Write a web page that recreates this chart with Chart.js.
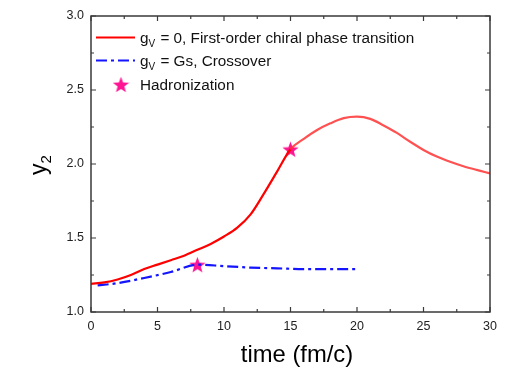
<!DOCTYPE html>
<html>
<head>
<meta charset="utf-8">
<script src="https://cdn.jsdelivr.net/npm/chart.js@4/dist/chart.umd.min.js"></script>
<style>
  html, body { margin: 0; padding: 0; background: #fff; }
  #wrap { width: 506px; height: 369px; }
</style>
</head>
<body>
<div id="wrap"><canvas id="c" width="506" height="369"></canvas></div>
<script>
// y2 vs time, first-order transition (gV = 0)
const timeFirstOrder = [0, 1, 2, 3, 4, 5, 6, 7, 8, 9, 10, 11, 12, 13, 14, 15, 16, 17, 18, 19, 20, 21, 22, 23, 24, 25, 26, 27, 28, 29, 30];
const y2FirstOrder   = [1.19, 1.20, 1.22, 1.25, 1.29, 1.32, 1.35, 1.38, 1.42, 1.46, 1.51, 1.57, 1.66, 1.80, 1.95, 2.10, 2.17, 2.23, 2.275, 2.31, 2.32, 2.305, 2.26, 2.21, 2.15, 2.095, 2.05, 2.015, 1.985, 1.96, 1.937];

// y2 vs time, crossover (gV = Gs)
const timeCrossover = [0.5, 2, 4, 6, 8, 10, 12, 14, 16, 18, 20];
const y2Crossover   = [1.18, 1.195, 1.23, 1.27, 1.32, 1.31, 1.30, 1.295, 1.29, 1.29, 1.29];

// hadronization points
const timeHadron = [8, 15];
const y2Hadron   = [1.32, 2.10];

const xTicks = [0, 5, 10, 15, 20, 25, 30];
const yTicks = [1.0, 1.5, 2.0, 2.5, 3.0];

const FONT = '"Liberation Sans", Arial, sans-serif';
const RED = '#ff0000';
const RED_LIGHT = 'rgba(255,50,50,0.85)';
const BLUE = '#1414ff';
const PINK = '#ff1493';

function makeStar(size, color) {
  const cv = document.createElement('canvas');
  cv.width = size; cv.height = size;
  const g = cv.getContext('2d');
  const cx = size / 2, cy = size / 2 + size * 0.05;
  const R = size / 2, r = R * 0.42;
  g.beginPath();
  for (let i = 0; i < 10; i++) {
    const a = -Math.PI / 2 + i * Math.PI / 5;
    const rad = i % 2 === 0 ? R : r;
    const px = cx + rad * Math.cos(a), py = cy + rad * Math.sin(a);
    if (i === 0) g.moveTo(px, py); else g.lineTo(px, py);
  }
  g.closePath();
  g.fillStyle = color;
  g.fill();
  return cv;
}
const starImg = makeStar(17, PINK);
const starLegend = makeStar(17, PINK);

const toXY = (xs, ys) => xs.map((x, i) => ({ x: x, y: ys[i] }));

// frame, inward ticks, axis titles and legend
const decorations = {
  id: 'decorations',
  afterDraw(chart) {
    const { ctx, chartArea: a, scales } = chart;
    const xs = scales.x, ys = scales.y;
    ctx.save();
    ctx.strokeStyle = '#3a3a3a';
    ctx.lineWidth = 1.5;
    ctx.strokeRect(a.left, a.top, a.right - a.left, a.bottom - a.top);

    ctx.lineWidth = 1.2;
    const major = 5, minor = 3;
    for (let v = 0; v <= 30.001; v += 2.5) {
      const p = xs.getPixelForValue(v);
      const len = Math.abs(v % 5) < 1e-6 ? major : minor;
      ctx.beginPath();
      ctx.moveTo(p, a.bottom); ctx.lineTo(p, a.bottom - len);
      ctx.moveTo(p, a.top); ctx.lineTo(p, a.top + len);
      ctx.stroke();
    }
    for (let v = 1; v <= 3.001; v += 0.25) {
      const p = ys.getPixelForValue(v);
      const len = Math.abs((v * 2) % 1) < 1e-6 ? major : minor;
      ctx.beginPath();
      ctx.moveTo(a.left, p); ctx.lineTo(a.left + len, p);
      ctx.moveTo(a.right, p); ctx.lineTo(a.right - len, p);
      ctx.stroke();
    }

    // axis titles
    ctx.fillStyle = '#000';
    ctx.font = '23.8px ' + FONT;
    ctx.textAlign = 'center';
    ctx.textBaseline = 'middle';
    ctx.fillText('time (fm/c)', 297, 355);

    ctx.save();
    ctx.translate(40, 165);
    ctx.rotate(-Math.PI / 2);
    ctx.textAlign = 'left';
    ctx.font = '23px ' + FONT;
    const wy = ctx.measureText('y').width;
    ctx.font = '15px ' + FONT;
    const w2 = ctx.measureText('2').width;
    const start = -(wy + w2) / 2;
    ctx.font = '23px ' + FONT;
    ctx.fillText('y', start, 0);
    ctx.font = '15px ' + FONT;
    ctx.fillText('2', start + wy, 7);
    ctx.restore();

    // legend
    const lx0 = 96, lx1 = 135, tx = 140;
    const rows = [37.5, 60.5, 85];
    const LF = '15.3px ' + FONT;
    ctx.lineWidth = 2.2;
    ctx.strokeStyle = RED;
    ctx.setLineDash([]);
    ctx.beginPath(); ctx.moveTo(lx0, rows[0]); ctx.lineTo(lx1, rows[0]); ctx.stroke();
    ctx.strokeStyle = BLUE;
    ctx.setLineDash([11, 4, 3, 4]);
    ctx.beginPath(); ctx.moveTo(lx0, rows[1]); ctx.lineTo(lx1, rows[1]); ctx.stroke();
    ctx.setLineDash([]);
    ctx.drawImage(starLegend, 121 - 8.5, rows[2] - 9);

    ctx.textAlign = 'left';
    ctx.textBaseline = 'alphabetic';
    ctx.fillStyle = '#111';
    const drawG = (y, rest) => {
      ctx.font = LF;
      ctx.fillText('g', tx, y + 5);
      const wg = ctx.measureText('g').width;
      ctx.font = '10px ' + FONT;
      ctx.fillText('V', tx + wg, y + 9);
      const wv = ctx.measureText('V').width;
      ctx.font = LF;
      ctx.fillText(rest, tx + wg + wv + 1, y + 5);
    };
    drawG(rows[0], ' = 0, First-order chiral phase transition');
    drawG(rows[1], ' = Gs, Crossover');
    ctx.font = LF;
    ctx.fillText('Hadronization', tx, rows[2] + 5);
    ctx.restore();
  }
};

new Chart(document.getElementById('c'), {
  type: 'scatter',
  data: {
    datasets: [
      {
        label: 'gV = 0, First-order chiral phase transition',
        data: toXY(timeFirstOrder, y2FirstOrder),
        showLine: true,
        borderColor: RED,
        borderWidth: 2.2,
        pointRadius: 0,
        cubicInterpolationMode: 'monotone',
        segment: {
          borderColor: c => (c.p0.parsed.x >= 15 ? RED_LIGHT : RED)
        }
      },
      {
        label: 'gV = Gs, Crossover',
        data: toXY(timeCrossover, y2Crossover),
        showLine: true,
        borderColor: BLUE,
        borderWidth: 2.2,
        borderDash: [11, 4, 3, 4],
        pointRadius: 0,
        cubicInterpolationMode: 'monotone'
      },
      {
        label: 'Hadronization',
        data: toXY(timeHadron, y2Hadron),
        showLine: false,
        pointStyle: starImg,
        pointRadius: 8
      }
    ]
  },
  options: {
    responsive: false,
    animation: false,
    devicePixelRatio: 1,
    layout: { padding: { top: 16, right: 16, left: 0, bottom: 0 } },
    plugins: { legend: { display: false }, tooltip: { enabled: false } },
    scales: {
      x: {
        type: 'linear',
        min: 0, max: 30,
        afterFit: s => { s.height = 57; },
        afterBuildTicks: s => { s.ticks = xTicks.map(v => ({ value: v })); },
        grid: { display: false, drawTicks: false },
        border: { display: false },
        ticks: { padding: 7, color: '#222', font: { family: FONT, size: 12.5 }, maxRotation: 0 }
      },
      y: {
        type: 'linear',
        min: 1, max: 3,
        afterFit: s => { s.width = 91; },
        afterBuildTicks: s => { s.ticks = yTicks.map(v => ({ value: v })); },
        grid: { display: false, drawTicks: false },
        border: { display: false },
        ticks: {
          padding: 7, color: '#222', font: { family: FONT, size: 12.5 },
          callback: v => Number(v).toFixed(1)
        }
      }
    }
  },
  plugins: [decorations]
});
</script>
</body>
</html>
